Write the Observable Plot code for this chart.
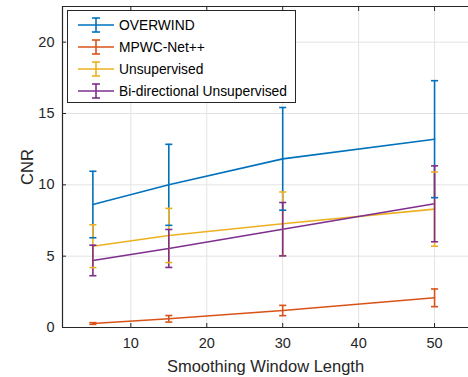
<!DOCTYPE html>
<html><head><meta charset="utf-8">
<script src="https://cdn.jsdelivr.net/npm/d3@7"></script>
<script src="https://cdn.jsdelivr.net/npm/@observablehq/plot@0.6"></script>
<style>
body{margin:0;overflow:hidden;background:#fff;font-family:"Liberation Sans",Arial,sans-serif;}
#wrap{position:relative;width:468px;height:377px;}
#legend{position:absolute;left:67px;top:10px;width:229px;height:93px;border:1px solid #262626;background:#fff;box-sizing:border-box;font-size:13.8px;color:#000;}
.item{position:absolute;left:9px;height:20px;display:flex;align-items:center;}
.item svg{margin-right:4px;}
</style></head><body>
<div id="wrap"><div id="chart"></div><div id="legend"></div></div>
<script>
const windows = [5, 15, 30, 50];
const seriesNames = ["OVERWIND", "MPWC-Net++", "Unsupervised", "Bi-directional Unsupervised"];
const colors = ["#0072BD", "#D95319", "#EDB120", "#7E2F8E"];
const overwindMean = [8.62, 10.0, 11.82, 13.2];
const overwindErr  = [2.33, 2.84, 3.6, 4.1];
const mpwcMean = [0.28, 0.61, 1.19, 2.08];
const mpwcErr  = [0.06, 0.23, 0.36, 0.62];
const unsupMean = [5.7, 6.45, 7.27, 8.3];
const unsupErr  = [1.5, 1.9, 2.23, 2.6];
const biMean = [4.7, 5.54, 6.89, 8.67];
const biErr  = [1.07, 1.33, 1.87, 2.66];
const xTicks = [10, 20, 30, 40, 50];
const yTicks = [0, 5, 10, 15, 20];
const xLabel = "Smoothing Window Length";
const yLabel = "CNR";

const means = [overwindMean, mpwcMean, unsupMean, biMean];
const errs = [overwindErr, mpwcErr, unsupErr, biErr];
const data = [];
seriesNames.forEach((s, i) => windows.forEach((w, j) => data.push({
  series: s, x: w, y: means[i][j], lo: means[i][j] - errs[i][j], hi: means[i][j] + errs[i][j]
})));

const capSymbol = {draw(ctx, size){ const r = Math.sqrt(size) / 2; ctx.moveTo(-r, 0); ctx.lineTo(r, 0); }};
const axisColor = "#262626";

const plot = Plot.plot({
  width: 468, height: 377,
  marginLeft: 62, marginRight: 0, marginTop: 6, marginBottom: 50,
  style: {fontFamily: "Liberation Sans, Arial, sans-serif", fontSize: "14.5px", color: axisColor, background: "#fff"},
  x: {domain: [1, 54.47], ticks: xTicks, label: null},
  y: {domain: [0, 22.5], ticks: yTicks, label: null},
  color: {domain: seriesNames, range: colors},
  marks: [
    Plot.ruleX(xTicks, {stroke: "#e3e3e3", strokeWidth: 1}),
    Plot.ruleY(yTicks, {stroke: "#e3e3e3", strokeWidth: 1}),
    Plot.line(data, {x: "x", y: "y", z: "series", stroke: "series", strokeWidth: 1.6}),
    Plot.ruleX(data, {x: "x", y1: "lo", y2: "hi", stroke: "series", strokeWidth: 1.6}),
    Plot.dot(data, {x: "x", y: "lo", symbol: capSymbol, r: 4, stroke: "series", strokeWidth: 1.6, fill: "none"}),
    Plot.dot(data, {x: "x", y: "hi", symbol: capSymbol, r: 4, stroke: "series", strokeWidth: 1.6, fill: "none"}),
    Plot.ruleY([0], {stroke: axisColor, strokeWidth: 1.2}),
    Plot.ruleY([22.5], {stroke: axisColor, strokeWidth: 1.2}),
    Plot.ruleX([1], {stroke: axisColor, strokeWidth: 1.2}),
    Plot.axisX({ticks: xTicks, tickSize: -4, tickPadding: 14, stroke: axisColor, fill: axisColor, fontSize: 14.5, label: null}),
    Plot.axisX({anchor: "top", ticks: xTicks, tickSize: -4, tickFormat: () => "", stroke: axisColor, label: null}),
    Plot.axisY({ticks: yTicks, tickSize: -4, tickPadding: 12, stroke: axisColor, fill: axisColor, fontSize: 14.5, label: null}),
    Plot.text([xLabel], {text: d => d, frameAnchor: "bottom", lineAnchor: "middle", textAnchor: "middle", dy: 39, fontSize: 16.5, fill: axisColor}),
    Plot.text([yLabel], {text: d => d, frameAnchor: "left", lineAnchor: "middle", textAnchor: "middle", dx: -35, rotate: -90, fontSize: 16.5, fill: axisColor})
  ]
});
document.getElementById("chart").appendChild(plot);

const legend = document.getElementById("legend");
seriesNames.forEach((s, i) => {
  const d = document.createElement("div");
  d.className = "item";
  d.style.top = (4 + i * 22) + "px";
  d.innerHTML = `<svg width="38" height="20"><line x1="1" x2="37" y1="10" y2="10" stroke="${colors[i]}" stroke-width="1.6"/><line x1="19" x2="19" y1="3" y2="17" stroke="${colors[i]}" stroke-width="1.6"/><line x1="15" x2="23" y1="3" y2="3" stroke="${colors[i]}" stroke-width="1.6"/><line x1="15" x2="23" y1="17" y2="17" stroke="${colors[i]}" stroke-width="1.6"/></svg><span>${s}</span>`;
  legend.appendChild(d);
});
</script></body></html>
